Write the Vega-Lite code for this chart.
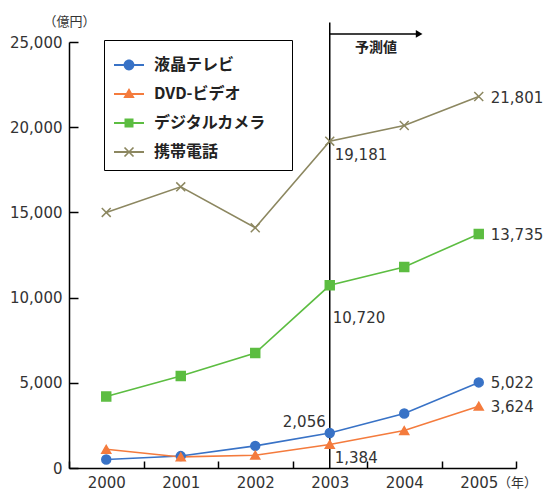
{
  "$schema": "https://vega.github.io/schema/vega-lite/v6.json",
  "width": 447,
  "height": 426,
  "autosize": {"type": "none"},
  "padding": {"left": 69, "top": 42, "right": 27, "bottom": 24},
  "background": "white",
  "config": {"view": {"stroke": null}, "font": "DejaVu Sans"},
  "datasets": {
    "sales": [
      {"year": 2000, "series": "液晶テレビ", "value": 500},
      {"year": 2001, "series": "液晶テレビ", "value": 700},
      {"year": 2002, "series": "液晶テレビ", "value": 1300},
      {"year": 2003, "series": "液晶テレビ", "value": 2056},
      {"year": 2004, "series": "液晶テレビ", "value": 3200},
      {"year": 2005, "series": "液晶テレビ", "value": 5022},
      {"year": 2000, "series": "DVD-ビデオ", "value": 1100},
      {"year": 2001, "series": "DVD-ビデオ", "value": 650},
      {"year": 2002, "series": "DVD-ビデオ", "value": 750},
      {"year": 2003, "series": "DVD-ビデオ", "value": 1384},
      {"year": 2004, "series": "DVD-ビデオ", "value": 2200},
      {"year": 2005, "series": "DVD-ビデオ", "value": 3624},
      {"year": 2000, "series": "デジタルカメラ", "value": 4200},
      {"year": 2001, "series": "デジタルカメラ", "value": 5400},
      {"year": 2002, "series": "デジタルカメラ", "value": 6750},
      {"year": 2003, "series": "デジタルカメラ", "value": 10720},
      {"year": 2004, "series": "デジタルカメラ", "value": 11800},
      {"year": 2005, "series": "デジタルカメラ", "value": 13735},
      {"year": 2000, "series": "携帯電話", "value": 15000},
      {"year": 2001, "series": "携帯電話", "value": 16500},
      {"year": 2002, "series": "携帯電話", "value": 14100},
      {"year": 2003, "series": "携帯電話", "value": 19181},
      {"year": 2004, "series": "携帯電話", "value": 20100},
      {"year": 2005, "series": "携帯電話", "value": 21801}
    ],
    "forecast": [{"year": 2003, "value": 26150, "bottom": 0}],
    "arrow": [{"year": 2003, "end": 2004.2, "value": 25470}],
    "arrowhead": [{"year": 2004.2, "value": 25470}],
    "note": [{"year": 2003.62, "value": 24650, "text": "予測値"}],
    "keys": [
      {"series": "液晶テレビ"},
      {"series": "DVD-ビデオ"},
      {"series": "デジタルカメラ"},
      {"series": "携帯電話"}
    ]
  },
  "encoding": {
    "x": {"field": "year", "type": "quantitative", "scale": {"domain": [1999.5, 2005.5], "nice": false, "zero": false}, "axis": null},
    "y": {"field": "value", "type": "quantitative", "scale": {"domain": [0, 25000], "nice": false}, "axis": null}
  },
  "resolve": {
    "scale": {"color": "independent", "shape": "independent", "fill": "independent", "stroke": "independent"},
    "axis": {"x": "independent", "y": "independent"}
  },
  "layer": [
    {
      "data": {"name": "forecast"},
      "mark": {"type": "rule", "color": "black", "strokeWidth": 1.5},
      "encoding": {
        "x": {
          "field": "year", "type": "quantitative",
          "scale": {"domain": [1999.5, 2005.5], "nice": false, "zero": false},
          "axis": {
            "orient": "top", "offset": -426,
            "values": [1999.5, 2000.5, 2001.5, 2002.5, 2003.5, 2004.5, 2005.5],
            "labels": false, "domain": false, "grid": false, "title": null,
            "ticks": true, "tickSize": 7, "tickWidth": 1.5, "tickColor": "black"
          }
        },
        "y": {
          "field": "value", "type": "quantitative",
          "scale": {"domain": [0, 25000], "nice": false},
          "axis": {
            "orient": "right", "offset": -447,
            "values": [0, 5000, 10000, 15000, 20000, 25000],
            "labels": false, "domain": false, "grid": false, "title": null,
            "ticks": true, "tickSize": 9, "tickWidth": 1.5, "tickColor": "black"
          }
        },
        "y2": {"field": "bottom"}
      }
    },
    {
      "data": {"name": "arrow"},
      "mark": {"type": "rule", "color": "black", "strokeWidth": 1.5},
      "encoding": {"x2": {"field": "end"}}
    },
    {
      "data": {"name": "arrowhead"},
      "mark": {"type": "point", "shape": "triangle-right", "filled": true, "color": "black", "size": 60, "opacity": 1},
      "encoding": {}
    },
    {
      "data": {"name": "note"},
      "mark": {"type": "text", "font": "Noto Sans CJK JP", "fontSize": 14, "fontWeight": "bold", "color": "#222", "align": "center", "baseline": "middle"},
      "encoding": {"text": {"field": "text"}}
    },
    {
      "data": {"name": "sales"},
      "mark": {"type": "line", "strokeWidth": 1.6},
      "encoding": {
        "x": {
          "field": "year", "type": "quantitative",
          "scale": {"domain": [1999.5, 2005.5], "nice": false, "zero": false},
          "axis": {
            "orient": "bottom",
            "values": [2000, 2001, 2002, 2003, 2004, 2005],
            "format": "d",
            "labelFlush": false, "labelOverlap": false, "labelBound": false,
            "labelFont": "DejaVu Sans", "labelFontSize": 15, "labelColor": "#333",
            "labelPadding": 7, "ticks": false,
            "domainColor": "black", "domainWidth": 1.5, "grid": false,
            "title": "（年）", "titleFont": "Noto Sans CJK JP", "titleFontSize": 13, "titleFontWeight": "normal", "titleColor": "#333",
            "titleX": 448, "titleY": 14, "titleAlign": "center", "titleBaseline": "middle"
          }
        },
        "y": {
          "field": "value", "type": "quantitative",
          "scale": {"domain": [0, 25000], "nice": false},
          "axis": {
            "orient": "left",
            "values": [0, 5000, 10000, 15000, 20000, 25000],
            "format": ",d",
            "labelFont": "DejaVu Sans", "labelFontSize": 15, "labelColor": "#333",
            "labelPadding": 7, "ticks": false,
            "domainColor": "black", "domainWidth": 1.5, "grid": false,
            "title": "（億円）", "titleFont": "Noto Sans CJK JP", "titleFontSize": 13, "titleFontWeight": "normal", "titleColor": "#333",
            "titleAngle": 0, "titleX": 0, "titleY": -21, "titleAlign": "center", "titleBaseline": "middle"
          }
        },
        "color": {
          "field": "series", "type": "nominal",
          "scale": {"domain": ["液晶テレビ", "DVD-ビデオ", "デジタルカメラ", "携帯電話"], "range": ["#3872c6", "#f47b3d", "#5cbd41", "#8c8760"]},
          "legend": null
        }
      }
    },
    {
      "data": {"name": "sales"},
      "mark": {"type": "point", "filled": true, "size": 80, "opacity": 1, "strokeWidth": 1.5},
      "encoding": {
        "shape": {
          "field": "series", "type": "nominal",
          "scale": {"domain": ["液晶テレビ", "DVD-ビデオ", "デジタルカメラ", "携帯電話"], "range": ["circle", "triangle-up", "square", "M-1,-1L1,1M-1,1L1,-1"]},
          "legend": null
        },
        "fill": {
          "field": "series", "type": "nominal",
          "scale": {"domain": ["液晶テレビ", "DVD-ビデオ", "デジタルカメラ", "携帯電話"], "range": ["#3872c6", "#f47b3d", "#5cbd41", "#8c8760"]},
          "legend": null
        },
        "stroke": {
          "field": "series", "type": "nominal",
          "scale": {"domain": ["液晶テレビ", "DVD-ビデオ", "デジタルカメラ", "携帯電話"], "range": ["#3872c6", "#f47b3d", "#5cbd41", "#8c8760"]},
          "legend": null
        }
      }
    },
    {
      "data": {"name": "keys"},
      "transform": [{"filter": "false"}],
      "mark": {"type": "point", "filled": true, "opacity": 1},
      "encoding": {
        "color": {
          "field": "series", "type": "nominal",
          "scale": {"domain": ["液晶テレビ", "DVD-ビデオ", "デジタルカメラ", "携帯電話"], "range": ["#3872c6", "#f47b3d", "#5cbd41", "#8c8760"]},
          "legend": {
            "orient": "none", "legendX": 35, "legendY": -2,
            "title": "\u00a0", "titleOrient": "right", "titlePadding": 16, "titleFontSize": 16,
            "strokeColor": "black", "fillColor": "white", "padding": 10, "rowPadding": 6,
            "labelFont": "Noto Sans CJK JP", "labelFontSize": 16, "labelFontWeight": "bold", "labelColor": "#222",
            "labelOffset": 10, "symbolSize": 900, "symbolStrokeWidth": 0, "symbolOpacity": 1
          }
        },
        "shape": {
          "field": "series", "type": "nominal",
          "scale": {
            "domain": ["液晶テレビ", "DVD-ビデオ", "デジタルカメラ", "携帯電話"],
            "range": [
              "M-1,-0.06H1V0.06H-1Z M0.36,0 A0.36,0.36 0 1,1 -0.36,0 A0.36,0.36 0 1,1 0.36,0Z",
              "M-1,-0.06H1V0.06H-1Z M0,-0.4 L0.38,0.26 L-0.38,0.26Z",
              "M-1,-0.06H1V0.06H-1Z M-0.3,-0.3H0.3V0.3H-0.3Z",
              "M-1,-0.06H1V0.06H-1Z M-0.34,-0.26 L-0.26,-0.34 L0.34,0.26 L0.26,0.34Z M-0.26,0.34 L-0.34,0.26 L0.26,-0.34 L0.34,-0.26Z"
            ]
          },
          "legend": {
            "orient": "none", "legendX": 35, "legendY": -2,
            "title": "\u00a0", "titleOrient": "right", "titlePadding": 16, "titleFontSize": 16,
            "strokeColor": "black", "fillColor": "white", "padding": 10, "rowPadding": 6,
            "labelFont": "Noto Sans CJK JP", "labelFontSize": 16, "labelFontWeight": "bold", "labelColor": "#222",
            "labelOffset": 10, "symbolSize": 900, "symbolStrokeWidth": 0, "symbolOpacity": 1
          }
        }
      }
    },
    {
      "data": {"name": "sales"},
      "transform": [{"filter": "datum.year === 2005"}],
      "mark": {"type": "text", "align": "left", "baseline": "middle", "dx": 12, "dy": 1, "font": "DejaVu Sans", "fontSize": 15, "color": "#333"},
      "encoding": {"text": {"field": "value", "type": "quantitative", "format": ","}}
    },
    {
      "data": {"name": "sales"},
      "transform": [{"filter": "datum.year === 2003 && (datum.series === '携帯電話' || datum.series === 'DVD-ビデオ')"}],
      "mark": {"type": "text", "align": "left", "baseline": "middle", "dx": 5, "dy": 14, "font": "DejaVu Sans", "fontSize": 15, "color": "#333"},
      "encoding": {"text": {"field": "value", "type": "quantitative", "format": ","}}
    },
    {
      "data": {"name": "sales"},
      "transform": [{"filter": "datum.year === 2003 && datum.series === 'デジタルカメラ'"}],
      "mark": {"type": "text", "align": "left", "baseline": "middle", "dx": 3, "dy": 33, "font": "DejaVu Sans", "fontSize": 15, "color": "#333"},
      "encoding": {"text": {"field": "value", "type": "quantitative", "format": ","}}
    },
    {
      "data": {"name": "sales"},
      "transform": [{"filter": "datum.year === 2003 && datum.series === '液晶テレビ'"}],
      "mark": {"type": "text", "align": "right", "baseline": "middle", "dx": -4, "dy": -11, "font": "DejaVu Sans", "fontSize": 15, "color": "#333"},
      "encoding": {"text": {"field": "value", "type": "quantitative", "format": ","}}
    }
  ]
}
